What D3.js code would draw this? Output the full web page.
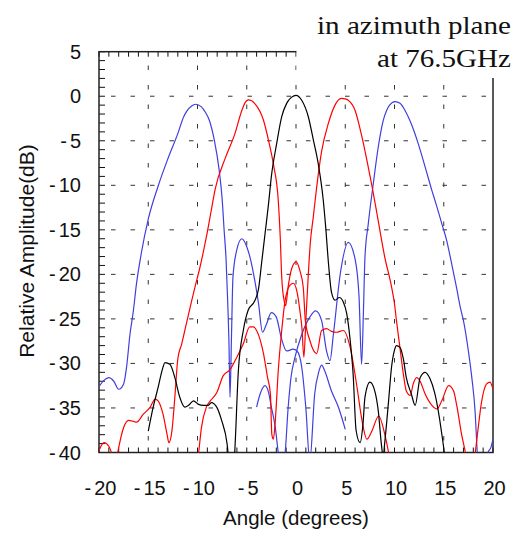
<!DOCTYPE html>
<html>
<head>
<meta charset="utf-8">
<script src="https://cdn.jsdelivr.net/npm/d3@7"></script>
<style>
  html, body { margin: 0; padding: 0; background: #fff; }
  svg { display: block; font-family: "Liberation Sans", Arial, sans-serif; }
</style>
</head>
<body>
<div id="chart"></div>
<script>
// measured beam patterns, [angle (deg), relative amplitude (dB)]
const xTickValues = [-20, -15, -10, -5, 0, 5, 10, 15, 20];
const yTickValues = [5, 0, -5, -10, -15, -20, -25, -30, -35, -40];
const titleLines = ["in azimuth plane", "at 76.5GHz"];

const blueLeft = [[-20,-32.6],[-19.5,-31.9],[-19,-31.6],[-18.5,-32],[-18,-32.9],[-17.5,-32.3],[-17.2,-30.4],
  [-16.85,-26.7],[-16.5,-24],[-16.2,-21.1],[-15.7,-17.6],[-15,-13.8],[-14,-10.1],[-13,-7],[-12,-4.2],
  [-11.4,-2.3],[-11.1,-1.7],[-10.6,-1.1],[-10.2,-0.9],[-9.6,-1.2],[-9.2,-1.8],[-8.8,-2.7],[-8.3,-4.9],
  [-7.8,-8.3],[-7.5,-11.5],[-7.3,-15],[-7.1,-18.3],[-6.95,-22.6],[-6.8,-28],[-6.7,-33.8],[-6.55,-27],
  [-6.4,-20.3],[-6,-17.2],[-5.5,-16],[-5,-16.9],[-4.6,-18.4],[-4.3,-20],[-3.8,-23.3],[-3.4,-26.5],
  [-3,-25.6],[-2.5,-24.3],[-2,-24.8],[-1.5,-27.1],[-0.95,-28.6],[-0.3,-28.4],[0.1,-28.6],[0.58,-30.4],
  [1,-35],[1.4,-41],[1.9,-33.4],[2.3,-31],[2.6,-30.2],[2.9,-30.8],[3.6,-33.1],[4.3,-34.9],[5,-37.4]];

const blueRight = [[-4,-34.9],[-3.6,-33.3],[-3.15,-32.5],[-2.8,-33.2],[-2.5,-34.9],[-2.1,-37.2],[-1.8,-40],
  [-1.45,-42],[-1.1,-40],[-0.8,-35],[-0.5,-31.5],[-0.1,-29.3],[0.6,-26.7],[1.4,-24.8],[2,-24.1],
  [2.6,-25.2],[3.1,-28.6],[3.45,-29.7],[3.8,-26.7],[4.5,-19.9],[5.3,-16.4],[6,-18.3],[6.4,-22.5],
  [6.66,-30.1],[6.85,-24],[7,-18.1],[7.34,-14.3],[7.85,-9.8],[8.35,-5.7],[8.86,-2.7],[9.2,-1.6],
  [9.5,-1],[10.05,-0.6],[10.56,-0.8],[11.07,-1.6],[11.7,-3.1],[12.4,-5.3],[13.1,-7.9],[13.8,-10.6],
  [14.3,-12.4],[14.8,-14.3],[15.3,-16.2],[15.8,-18.8],[16.3,-21.5],[16.7,-23.8],[17,-25.2],[17.5,-28.6],
  [17.85,-31.6],[18.2,-35.7],[18.35,-39],[18.6,-43],[19.2,-43],[19.5,-40],[19.8,-39.4],[20,-38.5]];

const redLeft = [[-20,-39.8],[-19.5,-38.9],[-19,-39.3],[-18.6,-40.5],[-18.35,-41.5],[-18.1,-40],[-17.5,-37.2],
  [-17,-36.4],[-16.5,-36.5],[-16.2,-36.6],[-15.5,-35.7],[-14.8,-34.9],[-14.3,-34],[-14,-34.2],[-13.5,-35.7],
  [-13.1,-37.9],[-12.9,-38.9],[-12.6,-37.6],[-12.3,-33.8],[-12,-29.5],[-11.6,-27.8],[-11.1,-25.4],
  [-10.6,-23],[-10.25,-21.4],[-9.75,-19.2],[-9.1,-15.8],[-8.6,-12.8],[-8.2,-10.4],[-7.2,-7],[-6.2,-4.2],
  [-5.5,-1.6],[-5.1,-0.6],[-4.85,-0.4],[-4.5,-0.5],[-4.2,-0.8],[-3.3,-2.7],[-2.8,-4.9],[-2.3,-7.6],
  [-1.8,-11.7],[-1.6,-15.8],[-1.45,-20.3],[-1.2,-23],[-1.05,-23.5],[-0.8,-21.4],[-0.45,-19.4],[0,-18.6],
  [0.4,-19.6],[0.74,-21.5],[0.95,-25.2],[1.4,-27.4],[2.1,-28.9],[2.6,-26.3],[3.1,-26.1],[3.6,-26.4],
  [4.1,-26.5],[4.8,-26.3],[5.5,-28.2],[6.2,-32.7],[6.7,-36.4],[7.2,-38.5],[7.7,-37.6],[8.4,-35.9],
  [9,-37.9],[9.4,-40],[9.7,-42]];

const redRight = [[-10.1,-42],[-9.9,-40.2],[-9.6,-37.2],[-9.1,-34.9],[-8.7,-34.2],[-8.05,-33.3],[-7.4,-31.4],
  [-6.7,-30.7],[-6.1,-29.5],[-5.35,-27.8],[-4.7,-25.9],[-4.3,-25.9],[-4,-26.3],[-3.3,-28.9],[-2.9,-31.5],
  [-2.6,-33.4],[-2.45,-38],[-2.3,-38.5],[-2.1,-36.4],[-1.8,-30.8],[-1.45,-26.3],[-1.1,-22.9],[-0.6,-21.2],
  [-0.27,-21],[0.07,-21.8],[0.4,-24.1],[0.6,-26],[0.8,-29.3],[1,-25.2],[1.25,-20],[1.45,-16.5],
  [1.75,-13.6],[2.1,-10.2],[2.6,-6.2],[3.3,-3],[3.96,-1],[4.6,-0.25],[5,-0.3],[5.3,-0.45],[6,-1.6],
  [6.66,-4.4],[7.2,-7.2],[7.7,-10],[8.35,-14],[9,-18],[9.7,-21.4],[10,-23.3],[10.2,-25.2],[10.55,-28.2],
  [10.9,-31.2],[11.2,-33.1],[11.6,-33.6],[11.9,-32.3],[12.25,-31.6],[12.6,-32],[13.1,-33.4],[13.8,-34.7],
  [14.3,-35.1],[14.8,-34.2],[15.5,-32.5],[16,-33.1],[16.3,-34.6],[16.8,-37.9],[17.2,-40],[17.7,-43],
  [18.2,-40],[18.5,-37.2],[18.8,-34.6],[19.35,-32.3],[19.7,-32.1],[20,-32.9]];

const blackCenter = [[-15,-37.6],[-14.5,-34.9],[-14,-32.7],[-13.6,-30.8],[-13.3,-29.9],[-12.8,-30.1],
  [-12.3,-31.6],[-11.8,-33.8],[-11.3,-34.9],[-10.9,-34.7],[-10.4,-34.2],[-9.9,-34.6],[-9.4,-34.7],
  [-8.9,-34.7],[-8.6,-34.4],[-8.05,-34.9],[-7.55,-36.4],[-7,-39],[-6.85,-40.5],[-6.5,-43],[-6.25,-40.5],
  [-5.85,-30.8],[-5.35,-26.3],[-4.85,-24],[-4.2,-23],[-3.8,-21.6],[-3.5,-18.8],[-3.15,-15.5],[-2.8,-12.2],
  [-2.5,-9],[-1.96,-5.3],[-1.45,-2.3],[-0.95,-0.8],[-0.44,-0.1],[0,0.1],[0.58,-0.45],[1.25,-2.3],
  [1.76,-4.9],[2.26,-7.6],[2.77,-11.7],[3,-14.5],[3.3,-18.8],[3.6,-22],[3.96,-22.9],[4.4,-22.6],
  [4.8,-23.1],[5.15,-24.4],[5.5,-27.4],[5.8,-31.2],[6.1,-37.5],[6.5,-38.9],[6.8,-36.8],[7,-33.8],
  [7.5,-32.1],[8,-33.1],[8.35,-35.3],[8.7,-39.4],[8.85,-40.5],[9,-39],[9.4,-34.2],[9.7,-30.4],[10,-28.5],
  [10.2,-28],[10.55,-28.2],[10.9,-29.5],[11.2,-31.6],[11.7,-33.4],[12.1,-34.7],[12.6,-31.6],[13.1,-31],
  [13.6,-31.7],[14.1,-33.4],[14.8,-37.9],[15.05,-40],[15.3,-43]];

const width = 518, height = 534;
const svg = d3.select('#chart').append('svg')
    .attr('width', width).attr('height', height);

const x = d3.scaleLinear().domain([-20, 20]).range([99, 493]);
const y = d3.scaleLinear().domain([-40, 5]).range([452.5, 51.7]);

// dashed grid
const grid = svg.append('g').attr('stroke', '#333').attr('stroke-width', 1)
    .attr('stroke-dasharray', '4.5,15');
grid.selectAll('.gx').data(d3.range(-15, 16, 5)).enter().append('line')
    .attr('x1', d => x(d)).attr('x2', d => x(d))
    .attr('y1', y(-40)).attr('y2', y(5))
    .attr('stroke-dashoffset', -12);
grid.selectAll('.gy').data(d3.range(-35, 1, 5)).enter().append('line')
    .attr('y1', d => y(d)).attr('y2', d => y(d))
    .attr('x1', x(-20)).attr('x2', x(20))
    .attr('stroke-dashoffset', -12);

// minor ticks
const ticks = svg.append('g').attr('stroke', '#111').attr('stroke-width', 1);
ticks.selectAll('.tb').data(d3.range(-20, 21, 1)).enter().append('line')
    .attr('x1', d => x(d)).attr('x2', d => x(d))
    .attr('y1', y(-40)).attr('y2', y(-40) - 5);
ticks.selectAll('.tt').data(d3.range(-20, 1, 1)).enter().append('line')
    .attr('x1', d => x(d)).attr('x2', d => x(d))
    .attr('y1', y(5)).attr('y2', y(5) + 5);
ticks.selectAll('.tl').data(d3.range(-40, 6, 1)).enter().append('line')
    .attr('y1', d => y(d)).attr('y2', d => y(d))
    .attr('x1', x(-20)).attr('x2', x(-20) + 6);

// frame
svg.append('rect')
    .attr('x', x(-20)).attr('y', y(5))
    .attr('width', x(20) - x(-20)).attr('height', y(-40) - y(5))
    .attr('fill', 'none').attr('stroke', '#222').attr('stroke-width', 1.5);

// title box hides top-right corner of the frame
svg.append('rect')
    .attr('x', x(0) + 0.5).attr('y', 38)
    .attr('width', 30 + x(20) - x(0)).attr('height', 40)
    .attr('fill', '#fff');

// curves
const clip = svg.append('clipPath').attr('id', 'plot-clip')
  .append('rect')
    .attr('x', x(-20)).attr('y', y(5))
    .attr('width', x(20) - x(-20)).attr('height', y(-40) - y(5));

const line = d3.line()
    .x(d => x(d[0])).y(d => y(d[1]))
    .curve(d3.curveMonotoneX);

const beams = [
  { pts: blueLeft, color: '#3f3fdf' },
  { pts: blueRight, color: '#3f3fdf' },
  { pts: redLeft, color: '#ff0000' },
  { pts: redRight, color: '#ff0000' },
  { pts: blackCenter, color: '#000000' }
];

svg.append('g').attr('clip-path', 'url(#plot-clip)')
  .selectAll('path').data(beams).enter().append('path')
    .attr('d', d => line(d.pts))
    .attr('fill', 'none')
    .attr('stroke', d => d.color)
    .attr('stroke-width', 1.2);

// tick labels: a hyphen with a small gap before the digits
function label(sel, v) {
  if (v < 0) {
    sel.append('tspan').text('-');
    sel.append('tspan').attr('dx', 3).text(Math.abs(v));
  } else {
    sel.append('tspan').text(v);
  }
}

svg.append('g').selectAll('text').data(xTickValues).enter().append('text')
    .attr('x', d => x(d) + 1.5).attr('y', 495)
    .attr('text-anchor', 'middle')
    .attr('font-size', 20).attr('fill', '#111')
    .each(function(d) { label(d3.select(this), d); });

svg.append('g').selectAll('text').data(yTickValues).enter().append('text')
    .attr('x', 81).attr('y', d => y(d) + 7)
    .attr('text-anchor', 'end')
    .attr('font-size', 20).attr('fill', '#111')
    .each(function(d) { label(d3.select(this), d); });

// axis titles
svg.append('text')
    .attr('x', 296).attr('y', 525)
    .attr('text-anchor', 'middle')
    .attr('font-size', 20.5).attr('fill', '#111')
    .text('Angle (degrees)');

svg.append('text')
    .attr('transform', 'translate(34,251) rotate(-90)')
    .attr('text-anchor', 'middle')
    .attr('font-size', 21).attr('fill', '#111')
    .text('Relative Amplitude(dB)');

// title, serif, right aligned
svg.append('g').selectAll('text').data(titleLines).enter().append('text')
    .attr('x', 511).attr('y', (d, i) => 34 + i * 32.7)
    .attr('text-anchor', 'end')
    .attr('font-family', '"Liberation Serif", "Times New Roman", serif')
    .attr('font-size', 26).attr('fill', '#111')
    .attr('textLength', (d, i) => i ? 134 : 194)
    .attr('lengthAdjust', 'spacingAndGlyphs')
    .text(d => d);
</script>
</body>
</html>
